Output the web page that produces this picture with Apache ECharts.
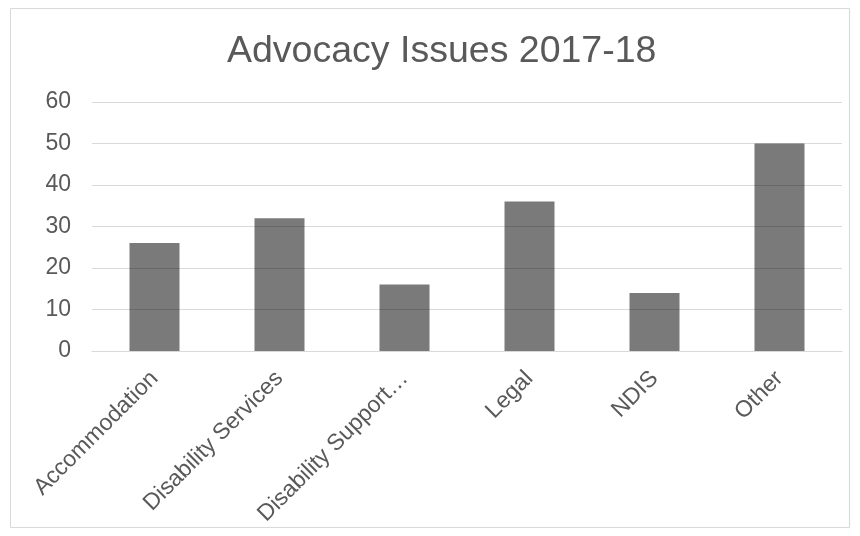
<!DOCTYPE html>
<html>
<head>
<meta charset="utf-8">
<script src="https://cdn.jsdelivr.net/npm/echarts@6/dist/echarts.min.js"></script>
<style>
  html, body { margin: 0; padding: 0; background: #fff; }
  #chart { width: 860px; height: 536px; }
</style>
</head>
<body>
<div id="chart"></div>
<script>
// 数据
var categories = ["Accommodation", "Disability Services", "Disability Support…", "Legal", "NDIS", "Other"];
var issueCounts = [26, 32, 16, 36, 14, 50];
var yTicks = [0, 10, 20, 30, 40, 50, 60];

var chartObj = echarts.init(document.getElementById("chart"));
var option = {
  backgroundColor: "#fff",
  animation: false,
  title: {
    text: "Advocacy Issues 2017-18",
    left: 222,
    top: 28,
    textStyle: {
      fontFamily: "Liberation Sans, Arial, sans-serif",
      fontSize: 37.5,
      fontWeight: "normal",
      color: "#595959"
    }
  },
  graphic: [{
    type: "rect",
    shape: { x: 10.5, y: 8.5, width: 839, height: 519 },
    style: { fill: "none", stroke: "#d9d9d9", lineWidth: 1 },
    silent: true
  }],
  grid: {
    left: 92,
    right: 18,
    top: 102,
    bottom: 185
  },
  xAxis: {
    type: "category",
    data: categories,
    axisLine: { lineStyle: { color: "#d9d9d9", width: 1 } },
    axisTick: { show: false },
    axisLabel: {
      rotate: 45,
      interval: 0,
      margin: 24,
      color: "#595959",
      fontSize: 23,
      fontFamily: "Liberation Sans, Arial, sans-serif"
    }
  },
  yAxis: {
    type: "value",
    min: yTicks[0],
    max: yTicks[yTicks.length - 1],
    interval: 10,
    axisLine: { show: false },
    axisTick: { show: false },
    axisLabel: {
      margin: 21,
      color: "#595959",
      fontSize: 23,
      fontFamily: "Liberation Sans, Arial, sans-serif"
    },
    splitLine: { lineStyle: { color: "#d9d9d9", width: 1 } }
  },
  series: [{
    type: "bar",
    data: issueCounts,
    barWidth: "40%",
    itemStyle: { color: "rgba(0,0,0,0.52)" }
  }]
};
chartObj.setOption(option);
</script>
</body>
</html>
